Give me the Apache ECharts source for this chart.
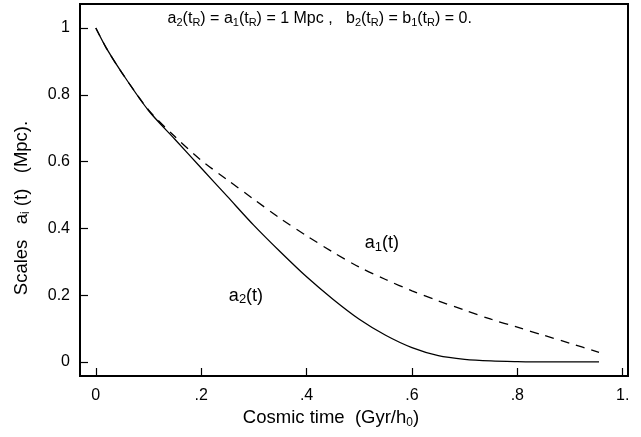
<!DOCTYPE html>
<html><head><meta charset="utf-8">
<script src="https://cdn.jsdelivr.net/npm/echarts@6/dist/echarts.min.js"></script>
<style>html,body{margin:0;padding:0;background:#fff}#c{width:641px;height:437px}</style>
</head><body><div id="c"></div>
<script>
const tValues = [0, 0.02, 0.05, 0.1, 0.15, 0.2, 0.25, 0.3, 0.35, 0.4, 0.45, 0.5, 0.55, 0.6, 0.65, 0.7, 0.75, 0.8, 0.85, 0.9, 0.955];
const a2Values = [1, 0.94, 0.865, 0.753, 0.667, 0.581, 0.495, 0.409, 0.33, 0.255, 0.188, 0.128, 0.08, 0.043, 0.019, 0.008, 0.003, 0.001, 0, 0, 0];
const a1Values = [1, 0.94, 0.865, 0.755, 0.675, 0.604, 0.545, 0.487, 0.43, 0.378, 0.329, 0.284, 0.247, 0.213, 0.183, 0.155, 0.128, 0.104, 0.08, 0.056, 0.029];
const xTicks = [0, 0.2, 0.4, 0.6, 0.8, 1.0];
const xTickLabels = ['0', '.2', '.4', '.6', '.8', '1.'];
const yTicks = [0, 0.2, 0.4, 0.6, 0.8, 1.0];
const yTickLabels = ['0', '0.2', '0.4', '0.6', '0.8', '1'];

const FONT = '"Liberation Sans", Arial, Helvetica, sans-serif';
const chart = echarts.init(document.getElementById('c'), null, {renderer: 'canvas'});
const sub = {fontSize: 12, fontFamily: FONT, color: '#000', padding: [8, 0, 0, 0]};

const option = {
  animation: false,
  backgroundColor: '#fff',
  grid: {left: 80, top: 4, right: 13, bottom: 61, show: true, borderColor: '#000', borderWidth: 2, backgroundColor: 'transparent'},
  xAxis: {
    type: 'value', min: -0.03, max: 1.01,
    splitLine: {show: false},
    axisLine: {show: true, onZero: false, lineStyle: {color: '#000', width: 2}},
    axisTick: {show: true, inside: true, length: 8, customValues: xTicks, lineStyle: {color: '#000', width: 1.2}},
    axisLabel: {customValues: xTicks, margin: 12, fontSize: 16, fontFamily: FONT, color: '#000',
      formatter: v => { const i = xTicks.findIndex(x => Math.abs(x - v) < 1e-6); return i >= 0 ? xTickLabels[i] : ''; }},
    name: '{n|Cosmic time  (Gyr/h}{s|0}{n|)}',
    nameLocation: 'middle', nameGap: 26,
    nameTextStyle: {padding: [0, 46, 0, 0], rich: {n: {fontSize: 18.5, fontFamily: FONT, color: '#000'}, s: sub}}
  },
  yAxis: {
    type: 'value', min: -0.042, max: 1.072,
    splitLine: {show: false},
    axisLine: {show: true, onZero: false, lineStyle: {color: '#000', width: 2}},
    axisTick: {show: true, inside: true, length: 8, customValues: yTicks, lineStyle: {color: '#000', width: 1.2}},
    axisLabel: {customValues: yTicks, margin: 10, fontSize: 16, fontFamily: FONT, color: '#000',
      formatter: v => { const i = yTicks.findIndex(x => Math.abs(x - v) < 1e-6); return i >= 0 ? yTickLabels[i] : ''; }},
    name: '{n|Scales   a}{s|i}{n| (t)   (Mpc).}',
    nameLocation: 'middle', nameGap: 48,
    nameTextStyle: {padding: [0, 36, 0, 0], rich: {n: {fontSize: 18.5, fontFamily: FONT, color: '#000'}, s: sub}}
  },
  series: [
    {name: 'a2', type: 'line', data: tValues.map((t, i) => [t, a2Values[i]]), smooth: 0.3, showSymbol: false,
     lineStyle: {color: '#000', width: 1.3, type: 'solid'}},
    {name: 'a1', type: 'line', data: tValues.map((t, i) => [t, a1Values[i]]), smooth: 0.3, showSymbol: false,
     lineStyle: {color: '#000', width: 1.3, type: [9, 7]}}
  ]
};
chart.setOption(option);

function lbl(t, a, rich, text, size) {
  const p = chart.convertToPixel({gridIndex: 0}, [t, a]);
  return {type: 'text', x: p[0], y: p[1], style: {text: text, rich: rich, align: 'center', verticalAlign: 'middle', fill: '#000', fontSize: size, fontFamily: FONT}};
}
const rn = s => ({n: {fontSize: s, fontFamily: FONT, color: '#000'}, s: {fontSize: Math.round(s*0.7), fontFamily: FONT, color: '#000', padding: [Math.round(s*0.45), 0, 0, 0]}});
chart.setOption({graphic: [
  lbl(0.425, 1.027, rn(16), '{n|a}{s|2}{n|(t}{s|R}{n|) = a}{s|1}{n|(t}{s|R}{n|) = 1 Mpc ,   b}{s|2}{n|(t}{s|R}{n|) = b}{s|1}{n|(t}{s|R}{n|) = 0.}', 16),
  lbl(0.543, 0.356, rn(18), '{n|a}{s|1}{n|(t)}', 18),
  lbl(0.285, 0.198, rn(18), '{n|a}{s|2}{n|(t)}', 18)
]});
</script></body></html>
